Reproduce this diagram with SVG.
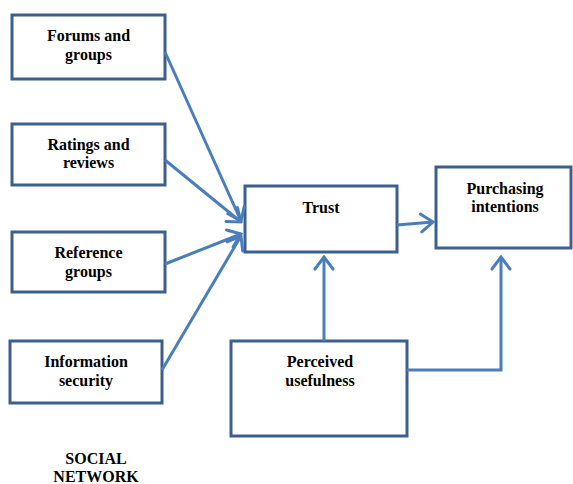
<svg xmlns="http://www.w3.org/2000/svg" width="573" height="484" viewBox="0 0 573 484">
<style>
.box{fill:#fff;stroke:#3c5f8f;stroke-width:3}
.t{font-family:"Liberation Serif","Times New Roman",serif;font-weight:bold;font-size:16px;fill:#000;text-anchor:middle}
.c{fill:none;stroke:#4a7ebb;stroke-width:3}
</style>
<defs>
<marker id="ah" markerWidth="16" markerHeight="22" refX="14" refY="11" orient="auto" markerUnits="userSpaceOnUse">
<path d="M2,2 L14,11 L2,20" fill="none" stroke="#4a7ebb" stroke-width="3" stroke-linecap="round"/>
</marker>
</defs>
<rect width="573" height="484" fill="#fff"/>
<g id="forums"><rect class="box" x="12" y="15" width="153" height="64"/><text class="t" x="88.5" y="41">Forums and</text><text class="t" x="88.5" y="60">groups</text></g>
<g id="ratings"><rect class="box" x="12" y="124" width="153" height="61"/><text class="t" x="88.5" y="150">Ratings and</text><text class="t" x="88.5" y="168">reviews</text></g>
<g id="reference"><rect class="box" x="12" y="232" width="153" height="60"/><text class="t" x="88.5" y="258">Reference</text><text class="t" x="88.5" y="277">groups</text></g>
<g id="information"><rect class="box" x="10" y="341" width="152" height="62"/><text class="t" x="86" y="367">Information</text><text class="t" x="86" y="386">security</text></g>
<g id="trust"><rect class="box" x="245" y="186" width="152" height="66"/><text class="t" x="321" y="213">Trust</text></g>
<g id="purchasing"><rect class="box" x="436" y="167" width="135" height="81"/><text class="t" x="505" y="194">Purchasing</text><text class="t" x="505" y="212">intentions</text></g>
<g id="perceived"><rect class="box" x="231" y="341" width="176" height="95"/><text class="t" x="320" y="367">Perceived</text><text class="t" x="320" y="386">usefulness</text></g>
<g id="social"><text class="t" x="96" y="464">SOCIAL</text><text class="t" x="96" y="482">NETWORK</text></g>
<g id="connectors">
<line class="c" x1="165" y1="52" x2="241" y2="221" marker-end="url(#ah)"/>
<line class="c" x1="165" y1="160" x2="241" y2="222" marker-end="url(#ah)"/>
<line class="c" x1="165" y1="264" x2="241" y2="234" marker-end="url(#ah)"/>
<line class="c" x1="162" y1="370" x2="241" y2="236" marker-end="url(#ah)"/>
<line class="c" x1="397" y1="225" x2="433" y2="222" marker-end="url(#ah)"/>
<line class="c" x1="324" y1="341" x2="324" y2="257" marker-end="url(#ah)"/>
<polyline class="c" points="407,370 501,370 501,257" marker-end="url(#ah)"/>
</g>
</svg>
